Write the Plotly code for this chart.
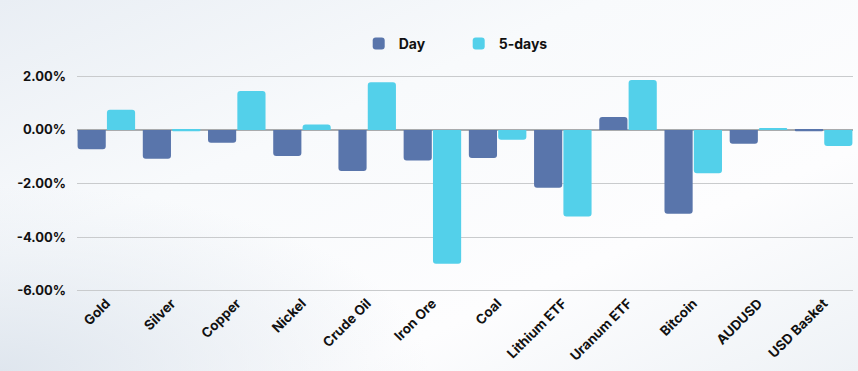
import plotly.graph_objects as go
import base64

categories = ["Gold", "Silver", "Copper", "Nickel", "Crude Oil", "Iron Ore", "Coal",
              "Lithium ETF", "Uranum ETF", "Bitcoin", "AUDUSD", "USD Basket"]
day_values = [-0.72, -1.08, -0.48, -0.97, -1.53, -1.14, -1.05, -2.16, 0.48, -3.13, -0.52, -0.05]
five_day_values = [0.75, -0.05, 1.45, 0.20, 1.78, -5.00, -0.37, -3.23, 1.86, -1.62, 0.05, -0.60]
y_ticks = [2, 0, -2, -4, -6]
y_tick_labels = ["2.00%", "0.00%", "-2.00%", "-4.00%", "-6.00%"]

FONT = "Inter, 'Open Sans', sans-serif"

svg = """<svg xmlns='http://www.w3.org/2000/svg' width='858' height='371'>
<defs>
<linearGradient id='g' x1='0' y1='0' x2='1' y2='1'>
<stop offset='0' stop-color='#e9eef4'/>
<stop offset='0.35' stop-color='#f8fafc'/>
<stop offset='0.7' stop-color='#fdfdfe'/>
<stop offset='1' stop-color='#eef2f6'/>
</linearGradient>
<radialGradient id='r' cx='0' cy='1' r='0.5'>
<stop offset='0' stop-color='#dfe6ee'/>
<stop offset='1' stop-color='#dfe6ee' stop-opacity='0'/>
</radialGradient>
</defs>
<rect width='858' height='371' fill='url(#g)'/>
<rect width='858' height='371' fill='url(#r)'/>
</svg>"""
bg_uri = "data:image/svg+xml;base64," + base64.b64encode(svg.encode()).decode()

fig = go.Figure()
fig.add_trace(go.Bar(x=categories, y=day_values, name="Day",
                     marker=dict(color="#5975AB", line=dict(width=0))))
fig.add_trace(go.Bar(x=categories, y=five_day_values, name="5-days",
                     marker=dict(color="#53D0EA", line=dict(width=0))))

fig.update_layout(
    width=858, height=371,
    margin=dict(l=77, r=5, t=75, b=79),
    paper_bgcolor="#f6f8fb",
    plot_bgcolor="rgba(0,0,0,0)",
    barmode="group",
    bargap=0.1,
    bargroupgap=0.04,
    barcornerradius=3,
    font=dict(family=FONT, color="#111111"),
    showlegend=True,
    legend=dict(orientation="h", xref="container", x=369/858 - 0.012, xanchor="left",
                yref="container", y=1 - 44/371, yanchor="middle",
                font=dict(family=FONT, size=14, weight="bold", color="#111111"),
                itemwidth=30, entrywidth=55, entrywidthmode="pixels",
                bgcolor="rgba(0,0,0,0)", traceorder="normal"),
)
fig.add_layout_image(dict(source=bg_uri, xref="paper", yref="paper",
                          x=-77/776, y=1 + 75/217, sizex=858/776, sizey=371/217,
                          xanchor="left", yanchor="top", sizing="stretch", layer="below"))

fig.update_xaxes(range=[-0.45, 11.45], tickangle=-45, showgrid=False, showline=False,
                 ticks="", tickfont=dict(family=FONT, size=13.5, weight="bold", color="#111111"))
fig.update_yaxes(range=[-6.05, 2.05], tickvals=y_ticks, ticktext=y_tick_labels,
                 showgrid=True, gridcolor="#c9cbcd", gridwidth=1,
                 zeroline=True, zerolinecolor="#a9abad", zerolinewidth=1.5,
                 ticks="", ticklabelstandoff=10,
                 tickfont=dict(family=FONT, size=13, weight="bold", color="#111111"))

fig.write_html("out.html", config={"displayModeBar": False},
               post_script="document.body.style.margin='0';document.body.style.overflow='hidden';")
